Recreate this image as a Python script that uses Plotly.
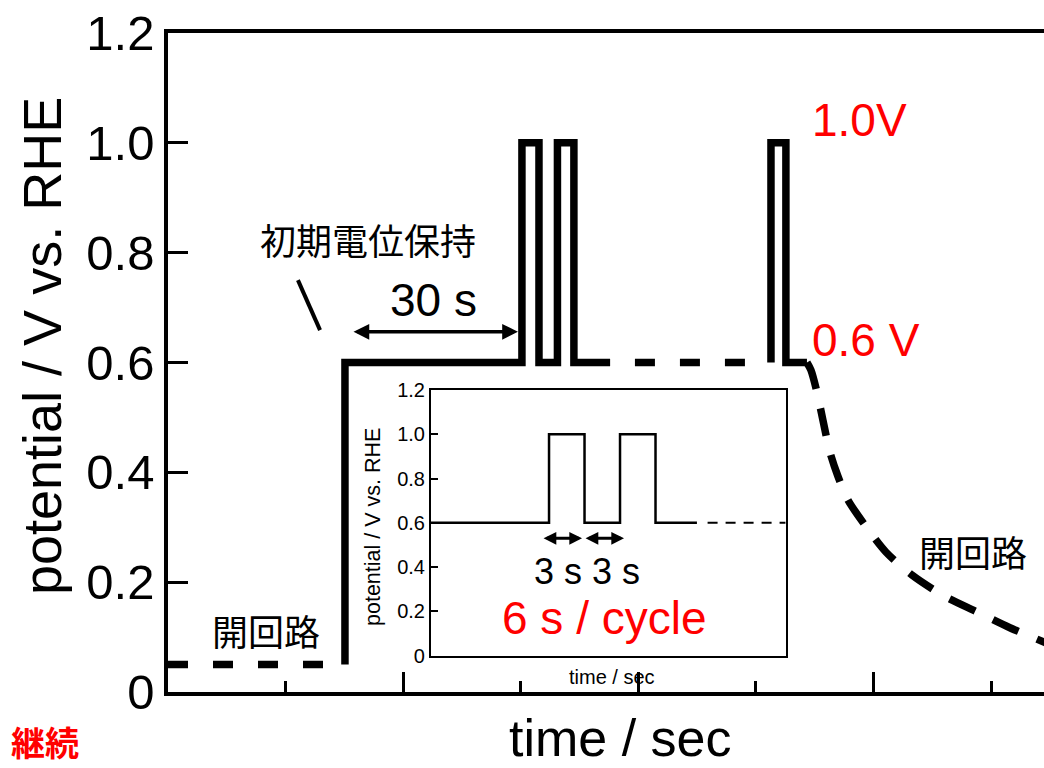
import plotly.graph_objects as go

# ---------------- data (main chart, arbitrary time units) ----------------
ocp_start_t = [0, 15.05]
ocp_start_v = [0.05, 0.05]

hold_t = [15.05, 15.05, 30.1, 30.1, 31.55, 31.55, 33.12, 33.12, 34.52, 34.52, 37.6]
hold_v = [0.05, 0.6, 0.6, 1.0, 1.0, 0.6, 0.6, 1.0, 1.0, 0.6, 0.6]

skip_t = [39.71, 49.25]
skip_v = [0.6, 0.6]

last_t = [51.28, 51.28, 52.55, 52.55, 54.34]
last_v = [0.6, 1.0, 1.0, 0.6, 0.6]

decay_t = [54.34, 54.68, 55.19, 55.70, 56.29, 56.97, 57.82, 59.27, 61.05, 63.27, 65.99, 68.79, 71.60, 74.49, 75.85]
decay_v = [0.600, 0.586, 0.546, 0.495, 0.437, 0.393, 0.350, 0.304, 0.255, 0.213, 0.175, 0.146, 0.117, 0.091, 0.078]

y_tickvals = [0, 0.2, 0.4, 0.6, 0.8, 1.0, 1.2]
y_ticktext = ["0", "0.2", "0.4", "0.6", "0.8", "1.0", "1.2"]
x_major = [20, 40, 60]
x_minor = [10, 30, 50, 70]

# ---------------- data (inset, seconds) ----------------
inset_t = [0, 10, 10, 13, 13, 16, 16, 19, 19, 22.5]
inset_v = [0.6, 0.6, 1.0, 1.0, 0.6, 0.6, 1.0, 1.0, 0.6, 0.6]
inset_dash_t = [23.4, 30]
inset_dash_v = [0.6, 0.6]

FONT = "Liberation Sans, Arial, sans-serif"
JFONT = "Noto Sans CJK JP, sans-serif"
RED = "#ff0000"

fig = go.Figure()

solid = dict(color="black", width=7.5)
fig.add_trace(go.Scatter(x=ocp_start_t, y=ocp_start_v, mode="lines",
                         line=dict(color="black", width=7.5, dash="20px,25px")))
fig.add_trace(go.Scatter(x=hold_t, y=hold_v, mode="lines", line=solid))
fig.add_trace(go.Scatter(x=skip_t, y=skip_v, mode="lines",
                         line=dict(color="black", width=7.5, dash="20px,25px")))
fig.add_trace(go.Scatter(x=last_t, y=last_v, mode="lines", line=solid))
fig.add_trace(go.Scatter(x=decay_t, y=decay_v, mode="lines",
                         line=dict(color="black", width=7.5, dash="28px,20px",
                                   shape="spline", smoothing=0.8)))

fig.add_trace(go.Scatter(x=inset_t, y=inset_v, mode="lines", xaxis="x2", yaxis="y2",
                         line=dict(color="black", width=2.5)))
fig.add_trace(go.Scatter(x=inset_dash_t, y=inset_dash_v, mode="lines", xaxis="x2", yaxis="y2",
                         line=dict(color="black", width=2, dash="10px,8px")))


def txt(x, y, text, size, color="black", family=FONT, ref=("x", "y"), xanchor="center",
        angle=0):
    return dict(x=x, y=y, xref=ref[0], yref=ref[1], text=text, showarrow=False,
                xanchor=xanchor, yanchor="middle", textangle=angle,
                font=dict(family=family, size=size, color=color))


def dbl_arrow(x0, x1, y, ref, width, size):
    return dict(x=x1, y=y, ax=x0, ay=y, xref=ref[0], yref=ref[1], axref=ref[0], ayref=ref[1],
                text="", showarrow=True, arrowhead=2, startarrowhead=2, arrowside="end+start",
                arrowwidth=width, arrowsize=size, startarrowsize=size, arrowcolor="black")


P = ("paper", "paper")
I = ("x2", "y2")
annotations = [
    txt(17.0, 0.825, "初期電位保持", 36, family=JFONT),
    txt(22.6, 0.714, "30 s", 46),
    dbl_arrow(15.65, 29.76, 0.656, ("x", "y"), 3.5, 0.9),
    txt(54.6, 1.041, "1.0V", 46, color=RED, xanchor="left"),
    txt(54.6, 0.641, "0.6 V", 46, color=RED, xanchor="left"),
    txt(8.33, 0.113, "開回路", 36, family=JFONT),
    txt(68.45, 0.257, "開回路", 36, family=JFONT),
    txt(-0.14, -0.0744, "<b>継続</b>", 34, color=RED, family=JFONT, ref=P),
    txt(0.517, -0.0698, "time / sec", 52, ref=P),
    txt(-0.1438, 0.525, "potential / V vs. RHE", 54, ref=P, angle=-90),
    # inset
    dbl_arrow(9.41, 12.79, 0.53, I, 3, 0.85),
    dbl_arrow(12.96, 16.34, 0.53, I, 3, 0.85),
    txt(13.21, 0.378, "3 s 3 s", 36, ref=I),
    txt(14.73, 0.17, "6 s / cycle", 46, color=RED, ref=I),
    txt(0.507, 0.0228, "time / sec", 20, ref=P),
    txt(0.234, 0.2504, "potential / V vs. RHE", 21.5, ref=P, angle=-90),
]

shapes = [
    dict(type="line", xref="x", yref="y", x0=11.05, y0=0.750, x1=12.93, y1=0.659,
         line=dict(color="black", width=4)),
]

fig.update_layout(
    width=1044, height=768,
    margin=dict(l=168, r=0, t=33, b=76),
    paper_bgcolor="white", plot_bgcolor="white",
    showlegend=False,
    annotations=annotations, shapes=shapes,
    xaxis=dict(range=[0, 74.5], domain=[0, 1], showline=True, linecolor="black", linewidth=3.5,
               mirror=True, showgrid=False, zeroline=False, showticklabels=False,
               ticks="inside", tickmode="array", tickvals=x_major, ticklen=20, tickwidth=3,
               tickcolor="black",
               minor=dict(tickmode="array", tickvals=x_minor, ticks="inside", ticklen=11,
                          tickwidth=3, tickcolor="black")),
    yaxis=dict(range=[0, 1.2], domain=[0, 1], showline=True, linecolor="black", linewidth=3.5,
               mirror=False, showgrid=False, zeroline=False,
               ticks="inside", tickmode="array", tickvals=y_tickvals, ticktext=y_ticktext,
               ticklen=20, tickwidth=3, tickcolor="black",
               tickfont=dict(family=FONT, size=49, color="black")),
    xaxis2=dict(range=[0, 30], domain=[0.2999, 0.7051], anchor="y2", showline=True,
                linecolor="black", linewidth=1.5, mirror=True, showgrid=False, zeroline=False,
                showticklabels=False, ticks=""),
    yaxis2=dict(range=[0, 1.2], domain=[0.0551, 0.4583], anchor="x2", showline=True,
                linecolor="black", linewidth=1.5, mirror=True, showgrid=False, zeroline=False,
                ticks="inside", tickmode="array", tickvals=y_tickvals, ticktext=y_ticktext,
                ticklen=8, tickwidth=1.5, tickcolor="black",
                tickfont=dict(family=FONT, size=20, color="black")),
)

fig.write_html("out.html", config={"displayModeBar": False},
               post_script="document.body.style.margin='0';")
